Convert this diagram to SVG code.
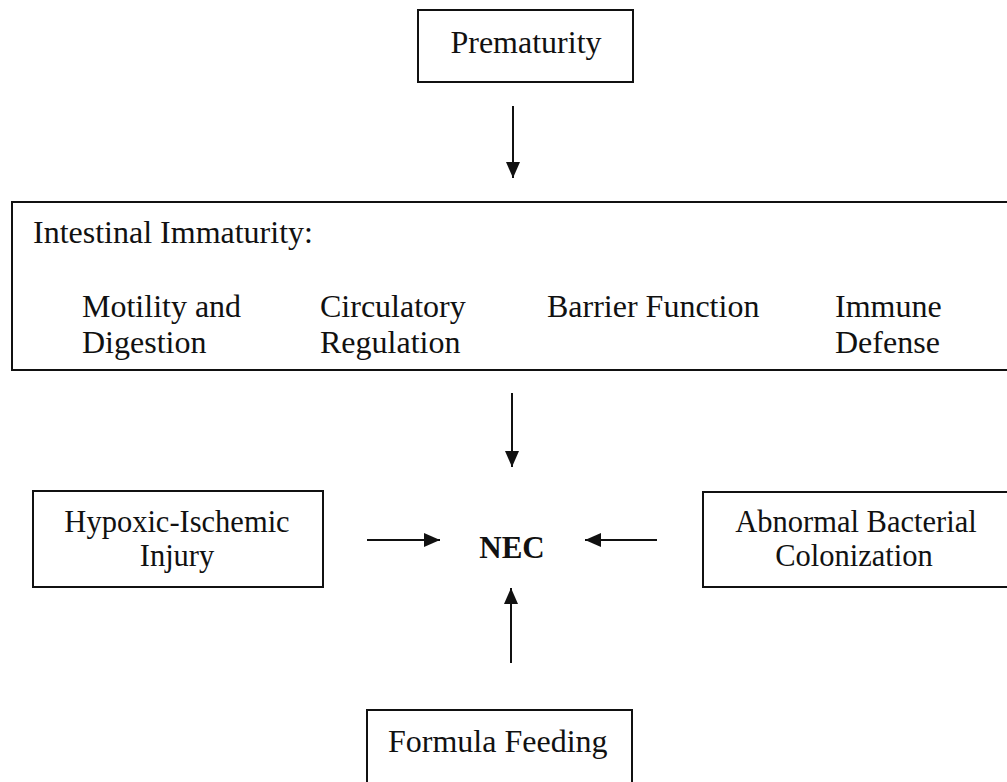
<svg xmlns="http://www.w3.org/2000/svg" width="1007" height="782" viewBox="0 0 1007 782">
<style>
.box{fill:none;stroke:#111;stroke-width:2}
.t{font-family:"Liberation Serif","Times New Roman",serif;font-size:32px;fill:#111}
.s{font-size:30.5px}
.c{text-anchor:middle}
.b{font-weight:bold;font-size:31px}
.ln{stroke:#111;stroke-width:2;fill:none}
</style>
<defs>
<marker id="ah" viewBox="0 0 16 14" refX="16" refY="7" markerWidth="16" markerHeight="14" markerUnits="userSpaceOnUse" orient="auto">
<path d="M0,0 L16,7 L0,14 z" fill="#111"/>
</marker>
</defs>
<rect width="1007" height="782" fill="#fff"/>
<g id="prematurity">
<rect class="box" x="418" y="10" width="215" height="72"/>
<text class="t c" x="526" y="53">Prematurity</text>
</g>
<g id="intestinal">
<rect class="box" x="12" y="202" width="1000" height="168"/>
<text class="t" x="33" y="243">Intestinal Immaturity:</text>
<text class="t" x="82" y="317">Motility and</text>
<text class="t" x="82" y="353">Digestion</text>
<text class="t" x="320" y="317">Circulatory</text>
<text class="t" x="320" y="353">Regulation</text>
<text class="t" x="547" y="317">Barrier Function</text>
<text class="t" x="835" y="317">Immune</text>
<text class="t" x="835" y="353">Defense</text>
</g>
<g id="hypoxic">
<rect class="box" x="33" y="491" width="290" height="96"/>
<text class="t s c" x="177" y="532">Hypoxic-Ischemic</text>
<text class="t s c" x="177" y="566">Injury</text>
</g>
<g id="nec">
<text class="t c b" x="512" y="558">NEC</text>
</g>
<g id="bacterial">
<rect class="box" x="703" y="492" width="310" height="95"/>
<text class="t s c" x="856" y="532">Abnormal Bacterial</text>
<text class="t s c" x="854" y="566">Colonization</text>
</g>
<g id="formula">
<rect class="box" x="367" y="710" width="265" height="80"/>
<text class="t" x="388" y="752">Formula Feeding</text>
</g>
<g id="connectors">
<line class="ln" x1="513" y1="106" x2="513" y2="178" marker-end="url(#ah)"/>
<line class="ln" x1="512" y1="393" x2="512" y2="467" marker-end="url(#ah)"/>
<line class="ln" x1="367" y1="540" x2="440" y2="540" marker-end="url(#ah)"/>
<line class="ln" x1="657" y1="540" x2="585" y2="540" marker-end="url(#ah)"/>
<line class="ln" x1="511" y1="663" x2="511" y2="588" marker-end="url(#ah)"/>
</g>
</svg>
